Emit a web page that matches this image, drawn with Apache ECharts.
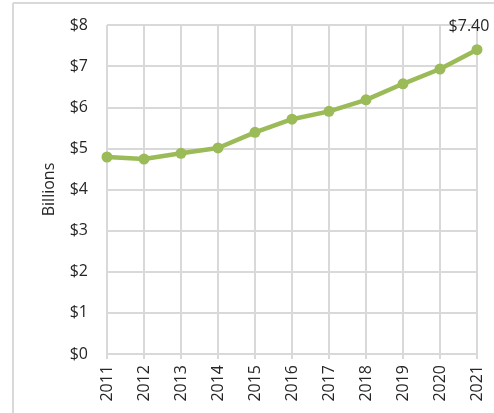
<!DOCTYPE html>
<html><head><meta charset="utf-8">
<script src="https://cdn.jsdelivr.net/npm/echarts@6/dist/echarts.min.js"></script>
<style>html,body{margin:0;padding:0;background:#fff}#c{width:494px;height:413px}</style>
</head><body><div id="c"></div>
<script>
const years = ['2011','2012','2013','2014','2015','2016','2017','2018','2019','2020','2021'];
const values = [4.79, 4.74, 4.88, 5.01, 5.39, 5.71, 5.90, 6.18, 6.57, 6.93, 7.40];
const yAxisName = 'Billions';
const lastLabel = '$7.40';

const chart = echarts.init(document.getElementById('c'));
const font = '"Open Sans", sans-serif';
const txt = '#262626';
chart.setOption({
  animation: false,
  graphic: [
    {type:'line', shape:{x1:13,y1:3,x2:13,y2:413}, style:{stroke:'#d9d9d9', lineWidth:2}},
    {type:'line', shape:{x1:13,y1:3,x2:494,y2:3}, style:{stroke:'#d9d9d9', lineWidth:2}}
  ],
  grid: {left:107, right:17, top:25, bottom:59},
  xAxis: {
    type:'category', data: years, boundaryGap:false,
    axisLine:{lineStyle:{color:'#d9d9d9', width:2}},
    axisTick:{show:true, length:5, lineStyle:{color:'#d9d9d9', width:2}},
    splitLine:{show:true, lineStyle:{color:'#d9d9d9', width:2}},
    axisLabel:{rotate:90, color:txt, fontSize:16, fontFamily:font, margin:11}
  },
  yAxis: {
    type:'value', min:0, max:8, interval:1,
    name: yAxisName, nameLocation:'middle', nameGap:50,
    nameTextStyle:{color:txt, fontSize:16, fontFamily:font},
    axisLine:{show:false}, axisTick:{show:false},
    splitLine:{lineStyle:{color:'#d9d9d9', width:2}},
    axisLabel:{color:txt, fontSize:16, fontFamily:font, margin:19,
      formatter: v => '$' + v}
  },
  series: [{
    type:'line', data: values.map((v,i)=> i===values.length-1 ? {value:v, label:{show:true, formatter: lastLabel, position:'top', offset:[-8,-5], color:txt, fontSize:16, fontFamily:font}} : v),
    lineStyle:{color:'#9bbb59', width:4.5},
    itemStyle:{color:'#9bbb59'},
    symbol:'circle', symbolSize:11
  }]
});
</script></body></html>
